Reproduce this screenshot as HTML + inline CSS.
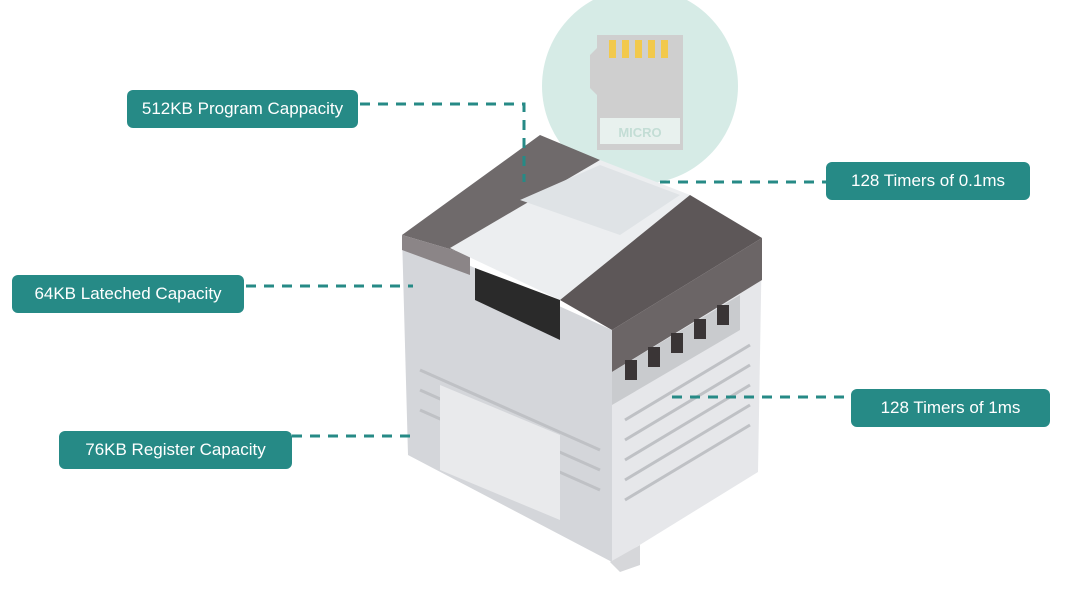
<!DOCTYPE html>
<html><head><meta charset="utf-8"><style>
body{margin:0;width:1080px;height:601px;background:#fff;overflow:hidden;position:relative;font-family:"Liberation Sans",sans-serif}
.lb{position:absolute;background:#268a86;color:#fff;border-radius:6px;font-size:17px;display:flex;align-items:center;justify-content:center;box-sizing:border-box}
svg{position:absolute;left:0;top:0}
</style></head><body>
<svg width="1080" height="601" viewBox="0 0 1080 601">
<circle cx="640" cy="86" r="98" fill="#d6ebe6"/>
<path d="M597 35 H683 V150 H597 V95 L590 88 V55 L597 48Z" fill="#cfcfcf"/>
<g fill="#f2c94c"><rect x="609" y="40" width="7" height="18"/><rect x="622" y="40" width="7" height="18"/><rect x="635" y="40" width="7" height="18"/><rect x="648" y="40" width="7" height="18"/><rect x="661" y="40" width="7" height="18"/></g>
<rect x="600" y="118" width="80" height="26" fill="#e8f1ee"/>
<text x="640" y="137" font-size="13" font-weight="bold" fill="#c3ddd5" text-anchor="middle" font-family="Liberation Sans">MICRO</text>
<!-- device -->
<polygon points="402,235 612,330 612,562 408,455" fill="#d4d6da"/>
<polygon points="612,330 762,238 758,472 612,562" fill="#e6e7ea"/>
<polygon points="402,235 540,135 600,160 470,255" fill="#6f6a6b"/>
<polygon points="402,235 470,255 470,275 402,250" fill="#8b8587"/>
<polygon points="450,248 600,160 690,195 560,300" fill="#eceef0"/>
<polygon points="520,200 600,165 680,195 620,235" fill="#dfe3e6"/>
<polygon points="560,300 690,195 762,238 612,330" fill="#5d5758"/>
<polygon points="612,330 762,238 762,280 612,372" fill="#6b6566"/>
<polygon points="475,268 560,300 560,340 475,300" fill="#2a2a2a"/>
<g stroke="#bfc1c5" stroke-width="3">
<line x1="420" y1="370" x2="600" y2="450"/><line x1="420" y1="390" x2="600" y2="470"/><line x1="420" y1="410" x2="600" y2="490"/>
<line x1="625" y1="420" x2="750" y2="345"/><line x1="625" y1="440" x2="750" y2="365"/><line x1="625" y1="460" x2="750" y2="385"/><line x1="625" y1="480" x2="750" y2="405"/><line x1="625" y1="500" x2="750" y2="425"/>
</g>
<polygon points="440,385 560,435 560,520 440,470" fill="#e9eaec"/>
<polygon points="612,372 740,295 740,330 612,405" fill="#c9cbce"/>
<g fill="#3a3536"><rect x="625" y="360" width="12" height="20"/><rect x="648" y="347" width="12" height="20"/><rect x="671" y="333" width="12" height="20"/><rect x="694" y="319" width="12" height="20"/><rect x="717" y="305" width="12" height="20"/></g>
<polygon points="610,562 640,545 640,565 620,572" fill="#d6d7da"/>
<g stroke="#268a86" stroke-width="3" stroke-dasharray="10,8" fill="none">
<polyline points="360,104 524,104 524,182"/>
<line x1="660" y1="182" x2="826" y2="182"/>
<line x1="246" y1="286" x2="413" y2="286"/>
<line x1="672" y1="397" x2="851" y2="397"/>
<line x1="292" y1="436" x2="413" y2="436"/>
</g>
</svg>
<div class="lb" style="left:127px;top:90px;width:231px;height:38px">512KB Program Cappacity</div>
<div class="lb" style="left:826px;top:162px;width:204px;height:38px">128 Timers of 0.1ms</div>
<div class="lb" style="left:12px;top:275px;width:232px;height:38px">64KB Lateched Capacity</div>
<div class="lb" style="left:851px;top:389px;width:199px;height:38px">128 Timers of 1ms</div>
<div class="lb" style="left:59px;top:431px;width:233px;height:38px">76KB Register Capacity</div>
</body></html>
